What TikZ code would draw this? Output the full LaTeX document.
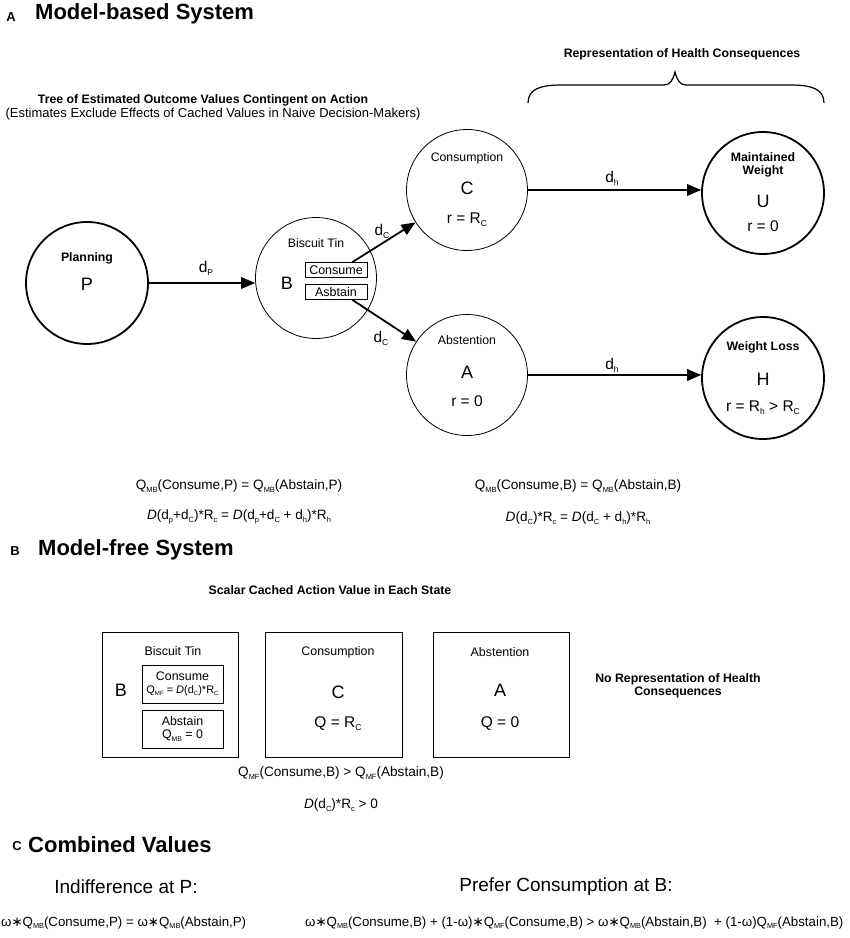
\documentclass[tikz,border=0pt]{standalone}
\usepackage{fontspec}
\setmainfont{Liberation Sans}
\newfontfamily\dejavu{DejaVu Sans}
\usetikzlibrary{arrows.meta}
\newcommand{\sbx}[1]{\raisebox{-0.35ex}{\scalebox{0.55}{#1}}}
\newcommand{\astk}{{\dejavu ∗}}
\begin{document}
\begin{tikzpicture}[x=1pt,y=-1pt,
  thickc/.style={circle, draw, line width=1.8pt, minimum size=122pt, inner sep=0pt},
  thinc/.style={circle, draw, line width=0.8pt, minimum size=121pt, inner sep=0pt},
  arr/.style={-{Triangle[length=14pt,width=11.5pt]}, line width=1.8pt},
  lbl/.style={font=\fontsize{12.3}{14}\selectfont, inner sep=0pt},
  blbl/.style={font=\bfseries\fontsize{12.3}{13.5}\selectfont, inner sep=0pt, align=center},
  big/.style={font=\fontsize{18}{20}\selectfont, inner sep=0pt},
  mid/.style={font=\fontsize{15.5}{17}\selectfont, inner sep=0pt},
  eq/.style={font=\fontsize{13.6}{15}\selectfont, inner sep=0pt},
  ttl/.style={font=\bfseries\fontsize{22}{24}\selectfont, anchor=west, inner sep=0pt},
  sect/.style={font=\bfseries\fontsize{13}{15}\selectfont, inner sep=0pt},
  ibox/.style={draw, line width=0.8pt, inner sep=0pt},
  obox/.style={draw, line width=0.8pt, inner sep=0pt, minimum height=125pt}
]
\useasboundingbox (0,0) rectangle (850,938);

% ---------- Section A ----------
\node[sect] (secA) at (11,17) {A};
\node[ttl] (ttlA) at (35,14) {Model-based System};
\node[blbl] (rephc) at (682,54) {Representation of Health Consequences};
\draw[line width=1.2pt] (528,103) .. controls (528,89) and (540,85) .. (562,85) -- (664,85)
  .. controls (670,85) and (673,80) .. (675,72) .. controls (677,80) and (680,85) .. (686,85)
  -- (790,85) .. controls (812,85) and (824,89) .. (824,103);
\node[blbl] (tree) at (203,100) {Tree of Estimated Outcome Values Contingent on Action};
\node[lbl, font=\fontsize{13}{15}\selectfont] (treesub) at (213,114) {(Estimates Exclude Effects of Cached Values in Naive Decision-Makers)};

\node[thickc] (P) at (87,283) {};
\node[thinc] (B) at (316,278) {};
\node[thinc] (C) at (467,190) {};
\node[thinc] (A) at (467,375) {};
\node[thickc] (U) at (763,193) {};
\node[thickc] (H) at (763,378) {};

\node[blbl] (tP1) at (87,258) {Planning};
\node[big] (tP2) at (87,284) {P};

\node[lbl] (tB1) at (316,243) {Biscuit Tin};
\node[big] (tB2) at (287,283) {B};
\node[ibox, minimum width=62pt, minimum height=15pt, font=\fontsize{12.5}{14}\selectfont] (cons) at (336,270) {Consume};
\node[ibox, minimum width=62pt, minimum height=15pt, font=\fontsize{12.5}{14}\selectfont] (abst) at (336,292) {Asbtain};

\node[lbl] (tC1) at (467,158) {Consumption};
\node[big] (tC2) at (467,188) {C};
\node[mid] (tC3) at (467,220) {r = R\sbx{C}};

\node[lbl] (tA1) at (467,340) {Abstention};
\node[big] (tA2) at (467,372) {A};
\node[mid] (tA3) at (467,401) {r = 0};

\node[blbl] (tU1) at (763,165) {Maintained\\[-1pt]Weight};
\node[big] (tU2) at (763,201) {U};
\node[mid] (tU3) at (763,226) {r = 0};

\node[blbl] (tH1) at (763,347) {Weight Loss};
\node[big] (tH2) at (763,379) {H};
\node[mid] (tH3) at (763,408) {r = R\sbx{h} > R\sbx{C}};

\draw[arr] (P.east) -- (P.east -| B.west);
\node[mid] (ldP) at (206,268) {d\sbx{P}};
\draw[arr] ([xshift=-15pt]cons.north east) -- (C);
\node[mid] (ldC1) at (382,231) {d\sbx{C}};
\draw[arr] ([xshift=-15pt]abst.south east) -- (A);
\node[mid] (ldC2) at (381,338) {d\sbx{C}};
\draw[arr] (C.east) -- (C.east -| U.west);
\node[mid] (ldh1) at (612,178) {d\sbx{h}};
\draw[arr] (A.east) -- (A.east -| H.west);
\node[mid] (ldh2) at (612,365) {d\sbx{h}};

\node[eq] (eq1) at (239,486) {Q\sbx{MB}(Consume,P) = Q\sbx{MB}(Abstain,P)};
\node[eq] (eq2) at (239,517) {\textit{D}(d\sbx{p}+d\sbx{C})*R\sbx{c} = \textit{D}(d\sbx{p}+d\sbx{C} + d\sbx{h})*R\sbx{h}};
\node[eq] (eq3) at (578,486) {Q\sbx{MB}(Consume,B) = Q\sbx{MB}(Abstain,B)};
\node[eq] (eq4) at (578,518) {\textit{D}(d\sbx{C})*R\sbx{c} = \textit{D}(d\sbx{C} + d\sbx{h})*R\sbx{h}};

% ---------- Section B ----------
\node[sect] (secB) at (15,551) {B};
\node[ttl] (ttlB) at (38,550) {Model-free System};
\node[blbl] (scalar) at (330,590) {Scalar Cached Action Value in Each State};

\node[obox, minimum width=136pt] (bB) at (170,694.5) {};
\node[obox, minimum width=137pt] (bC) at (333.5,694.5) {};
\node[obox, minimum width=136pt] (bA) at (501,694.5) {};

\node[lbl, font=\fontsize{12.4}{14}\selectfont] (tbB1) at (173,651) {Biscuit Tin};
\node[big] (tbB2) at (121,690) {B};
\node[ibox, minimum width=81pt, minimum height=38pt, align=center, font=\fontsize{12.4}{14}\selectfont] (mfc) at (182.5,684)
  {Consume\\[-1pt]{\fontsize{11}{13}\selectfont Q\sbx{MF} = \textit{D}(d\sbx{C})*R\sbx{C}}};
\node[ibox, minimum width=81pt, minimum height=38pt, align=center, font=\fontsize{12.4}{14}\selectfont] (mfa) at (182.5,729)
  {Abstain\\[-1pt]Q\sbx{MB} = 0};

\node[lbl, font=\fontsize{12.4}{14}\selectfont] (tbC1) at (338,652) {Consumption};
\node[big] (tbC2) at (338,692) {C};
\node[mid] (tbC3) at (338,724) {Q = R\sbx{C}};

\node[lbl, font=\fontsize{12.4}{14}\selectfont] (tbA1) at (500,652) {Abstention};
\node[big] (tbA2) at (500,690) {A};
\node[mid] (tbA3) at (500,724) {Q = 0};

\node[blbl] (norep) at (678,686) {No Representation of Health\\[-1pt]Consequences};

\node[eq] (eq5) at (341,773) {Q\sbx{MF}(Consume,B) > Q\sbx{MF}(Abstain,B)};
\node[eq] (eq6) at (341,805) {\textit{D}(d\sbx{C})*R\sbx{c} > 0};

% ---------- Section C ----------
\node[sect] (secC) at (17,846) {C};
\node[ttl] (ttlC) at (28,845) {Combined Values};
\node[inner sep=0pt, font=\fontsize{19}{21}\selectfont] (indiff) at (126,887) {Indifference at P:};
\node[inner sep=0pt, font=\fontsize{19}{21}\selectfont] (prefer) at (566,887) {Prefer Consumption at B:};
\node[eq, anchor=west, font=\fontsize{13.3}{15}\selectfont] (eq7) at (1,923) {ω\astk Q\sbx{MB}(Consume,P) = ω\astk Q\sbx{MB}(Abstain,P)};
\node[eq, anchor=west, font=\fontsize{13.3}{15}\selectfont] (eq8) at (305,923) {ω\astk Q\sbx{MB}(Consume,B) + (1-ω)\astk Q\sbx{MF}(Consume,B) > ω\astk Q\sbx{MB}(Abstain,B)~ + (1-ω)Q\sbx{MF}(Abstain,B)};
\end{tikzpicture}
\end{document}
